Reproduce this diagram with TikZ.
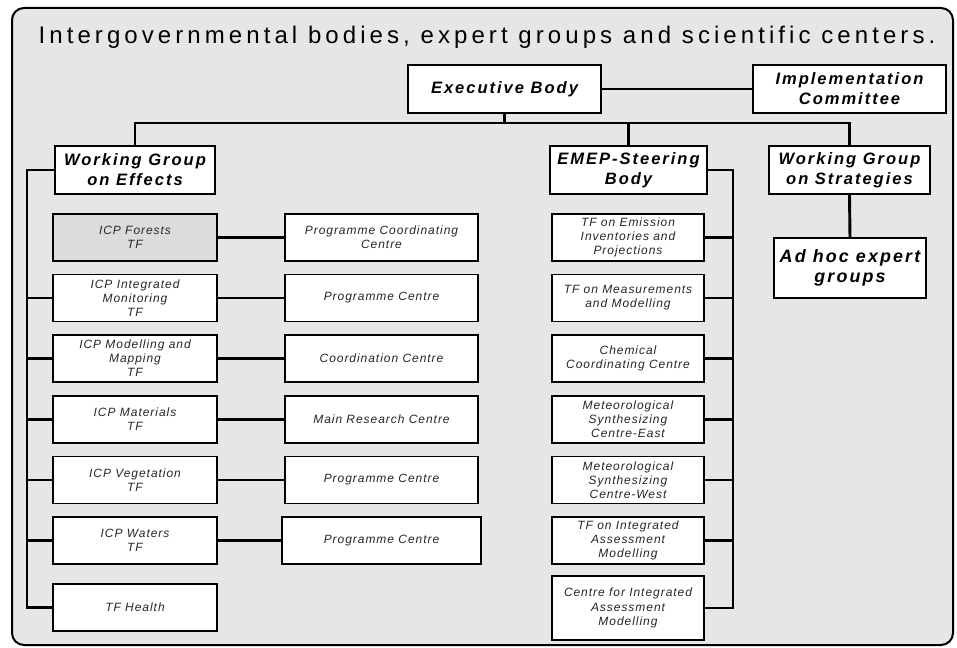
\documentclass[tikz,border=0pt]{standalone}
\usepackage{fontspec}
\usepackage{tikz}
\setmainfont{Liberation Sans}
\newfontfamily\titlefont[LetterSpace=17]{Liberation Sans}
\newfontfamily\headfont[LetterSpace=12]{Liberation Sans}
\newfontfamily\smallfont[LetterSpace=8]{Liberation Sans}

\definecolor{panelgray}{HTML}{E6E6E6}
\definecolor{forestgray}{HTML}{DCDCDC}

\tikzset{
	body/.style={draw, line width=1.2pt, fill=white, align=center, inner sep=0pt,
		minimum height=36pt, font=\headfont\bfseries\itshape\fontsize{12.4}{15}\selectfont},
	unit/.style={draw, line width=1pt, fill=white, align=center, inner sep=0pt,
		minimum height=35.25pt, text=black!85, font=\smallfont\itshape\fontsize{9}{10.6}\selectfont},
	icpbox/.style={unit, minimum width=123pt},
	centrebox/.style={unit, minimum width=144.75pt},
	emepbox/.style={unit, minimum width=114pt},
	link/.style={line width=2.2pt}
}

\begin{document}
\begin{tikzpicture}[x=0.75pt, y=-0.75pt]
	
	\useasboundingbox (0,0) rectangle (957,648);
	\draw [line width=1.5pt, fill=panelgray, rounded corners=9pt] (12,8) rectangle (953,645);
	
	\node (title) at (487,37) {\titlefont\fontsize{18}{20}\selectfont Intergovernmental bodies, expert groups and scientific centers.};
	
	% top level
	\node [body, minimum width=144.75pt] (exec) at (504.5,89) {Executive Body};
	\node [body, minimum width=144.75pt] (impl) at (849.5,89) {Implementation\\Committee};
	\node [body, minimum width=120pt] (wge) at (135,170) {Working Group\\on Effects};
	\node [body, minimum width=117.75pt] (emep) at (628.5,170) {EMEP-Steering\\Body};
	\node [body, minimum width=120.75pt] (wgs) at (849.5,170) {Working Group\\on Strategies};
	\node [body, minimum width=114pt, minimum height=45pt, font=\headfont\bfseries\itshape\fontsize{13.4}{15}\selectfont] (adhoc) at (850,268) {Ad hoc expert\\groups};
	
	% effects side
	\node [icpbox, fill=forestgray] (forests) at (135,237.5) {ICP Forests\\TF};
	\node [icpbox] (intmon) at (135,298) {ICP Integrated\\Monitoring\\TF};
	\node [icpbox] (modmap) at (135,358.5) {ICP Modelling and\\Mapping\\TF};
	\node [icpbox] (materials) at (135,419.5) {ICP Materials\\TF};
	\node [icpbox] (vegetation) at (135,480) {ICP Vegetation\\TF};
	\node [icpbox] (waters) at (135,540.5) {ICP Waters\\TF};
	\node [icpbox] (health) at (135,607.5) {TF Health};
	
	\node [centrebox] (pcc) at (381.5,237.5) {Programme Coordinating\\Centre};
	\node [centrebox] (pcintmon) at (381.5,298) {Programme Centre};
	\node [centrebox] (ccmodmap) at (381.5,358.5) {Coordination Centre};
	\node [centrebox] (mrc) at (381.5,419.5) {Main Research Centre};
	\node [centrebox] (pcveg) at (381.5,480) {Programme Centre};
	\node [centrebox, minimum width=149.25pt] (pcwat) at (381.5,540.5) {Programme Centre};
	
	% EMEP side
	\node [emepbox] (emis) at (628,237.5) {TF on Emission\\Inventories and\\Projections};
	\node [emepbox] (meas) at (628,298) {TF on Measurements\\and Modelling};
	\node [emepbox] (chem) at (628,358.5) {Chemical\\Coordinating Centre};
	\node [emepbox] (msce) at (628,419.5) {Meteorological\\Synthesizing\\Centre-East};
	\node [emepbox] (mscw) at (628,480) {Meteorological\\Synthesizing\\Centre-West};
	\node [emepbox] (tfiam) at (628,540.5) {TF on Integrated\\Assessment\\Modelling};
	\node [emepbox, minimum height=48pt] (ciam) at (628,608) {Centre for Integrated\\Assessment\\Modelling};
	
	\coordinate (bus) at (0,123);
	\coordinate (trunkL) at (27,0);
	\coordinate (trunkR) at (733,0);
	
	% connectors
	\draw [link] (exec.east) -- (impl.west);
	\draw [link] (exec.south) -- (exec.south |- bus);
	\draw [link] (wge.north) |- (wgs.north |- bus) -- (wgs.north);
	\draw [link] (emep.north) -- (emep.north |- bus);
	\draw [link] (wgs.south) -- (adhoc.north);
	
	\draw [link] (wge.west) -| (trunkL |- health.west) -- (health.west);
	\draw [link] (intmon.west) -- (trunkL |- intmon.west);
	\draw [link] (modmap.west) -- (trunkL |- modmap.west);
	\draw [link] (materials.west) -- (trunkL |- materials.west);
	\draw [link] (vegetation.west) -- (trunkL |- vegetation.west);
	\draw [link] (waters.west) -- (trunkL |- waters.west);
	
	\draw [link] (forests.east) -- (pcc.west);
	\draw [link] (intmon.east) -- (pcintmon.west);
	\draw [link] (modmap.east) -- (ccmodmap.west);
	\draw [link] (materials.east) -- (mrc.west);
	\draw [link] (vegetation.east) -- (pcveg.west);
	\draw [link] (waters.east) -- (pcwat.west);
	
	\draw [link] (emep.east) -| (trunkR |- ciam.east) -- (ciam.east);
	\draw [link] (emis.east) -- (trunkR |- emis.east);
	\draw [link] (meas.east) -- (trunkR |- meas.east);
	\draw [link] (chem.east) -- (trunkR |- chem.east);
	\draw [link] (msce.east) -- (trunkR |- msce.east);
	\draw [link] (mscw.east) -- (trunkR |- mscw.east);
	\draw [link] (tfiam.east) -- (trunkR |- tfiam.east);
	
\end{tikzpicture}
\end{document}
